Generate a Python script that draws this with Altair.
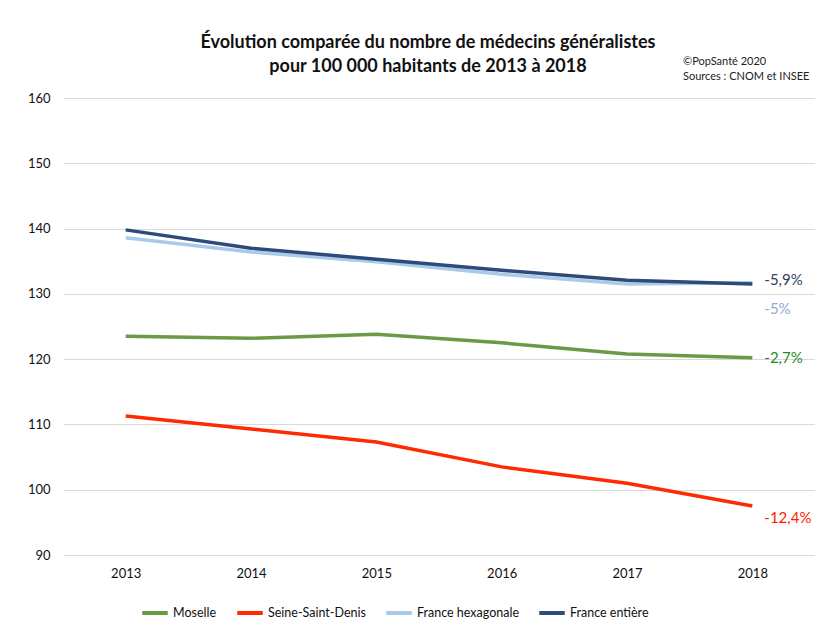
import altair as alt
import pandas as pd

years = ["2013", "2014", "2015", "2016", "2017", "2018"]
moselle = [123.5, 123.2, 123.8, 122.5, 120.8, 120.2]
seine_saint_denis = [111.3, 109.3, 107.3, 103.5, 101.0, 97.5]
france_hexagonale = [138.6, 136.4, 134.9, 133.0, 131.5, 131.7]
france_entiere = [139.8, 137.0, 135.3, 133.6, 132.1, 131.5]

series_names = ["Moselle", "Seine-Saint-Denis", "France hexagonale", "France entière"]
series_values = [moselle, seine_saint_denis, france_hexagonale, france_entiere]
series_colors = ["#6a9a45", "#ff2a00", "#a9cbe9", "#2d4a7a"]

end_labels = ["-2,7%", "-12,4%", "-5%", "-5,9%"]
end_label_colors = ["#1f8a1f", "#ff1a00", "#8eaadb", "#2f3e60"]
end_label_dy = [0, 12, 26, -4]

title_lines = ["Évolution comparée du nombre de médecins généralistes",
               "pour 100 000 habitants de 2013 à 2018"]
credit_lines = ["©PopSanté 2020", "Sources : CNOM et INSEE"]

rows = []
for name, vals in zip(series_names, series_values):
    for y, v in zip(years, vals):
        rows.append({"series": name, "year": y, "value": v})
df = pd.DataFrame(rows)

FONT = "Lato"
W, H = 752, 457

x_enc = alt.X("year:O", scale=alt.Scale(type="point", padding=0.5),
              axis=alt.Axis(title=None, labelAngle=0, domain=False, ticks=False,
                            grid=False, labelPadding=12, labelFontSize=13,
                            labelFont=FONT, labelColor="#111"))
y_enc = alt.Y("value:Q", scale=alt.Scale(domain=[90, 160], nice=False, zero=False),
              axis=alt.Axis(title=None, values=list(range(90, 161, 10)), domain=False,
                            ticks=False, grid=True, gridColor="#d9d9d9", gridWidth=1,
                            labelPadding=13, labelFontSize=13, labelFont=FONT,
                            labelColor="#111"))

lines = alt.Chart(df).mark_line(strokeWidth=3.5, strokeCap="butt").encode(
    x=x_enc,
    y=y_enc,
    color=alt.Color("series:N",
                    scale=alt.Scale(domain=series_names, range=series_colors),
                    sort=series_names,
                    legend=alt.Legend(title=None, orient="none", legendX=77, legendY=500,
                                      direction="horizontal", symbolType="stroke",
                                      symbolSize=650, symbolStrokeWidth=4,
                                      labelFontSize=12.5, labelFont=FONT, labelColor="#111",
                                      labelOffset=3, columnPadding=12)),
    order=alt.Order("series_order:Q"),
).transform_calculate(
    series_order="indexof(%s, datum.series)" % str(series_names)
)

layers = [lines]
for name, vals, lab, col, dy in zip(series_names, series_values, end_labels,
                                    end_label_colors, end_label_dy):
    ldf = pd.DataFrame({"year": [years[-1]], "value": [vals[-1]], "label": [lab]})
    layers.append(
        alt.Chart(ldf).mark_text(align="left", baseline="middle", dx=12, dy=dy,
                                 fontSize=15, font=FONT, color=col).encode(
            x=alt.X("year:O", scale=alt.Scale(type="point", padding=0.5)),
            y=alt.Y("value:Q"),
            text="label:N")
    )

# title lines (annotation text)
for i, t in enumerate(title_lines):
    layers.append(
        alt.Chart(pd.DataFrame({"t": [t]})).mark_text(
            align="center", baseline="alphabetic", fontSize=18, fontWeight="bold",
            font=FONT, color="#111").encode(
            x=alt.value(365), y=alt.value(-50 + 24 * i), text="t:N")
    )

for i, t in enumerate(credit_lines):
    layers.append(
        alt.Chart(pd.DataFrame({"t": [t]})).mark_text(
            align="left", baseline="middle", fontSize=11, font=FONT,
            color="#222").encode(
            x=alt.value(620), y=alt.value(-36 + 15 * i), text="t:N")
    )

chart = alt.layer(*layers).properties(
    width=W, height=H,
    autosize=alt.AutoSizeParams(type="none"),
    padding={"left": 55, "top": 90, "right": 0, "bottom": 67},
    background="white",
).configure_view(stroke=None)

chart.save("out.html", embed_options={"renderer": "svg", "actions": False})
